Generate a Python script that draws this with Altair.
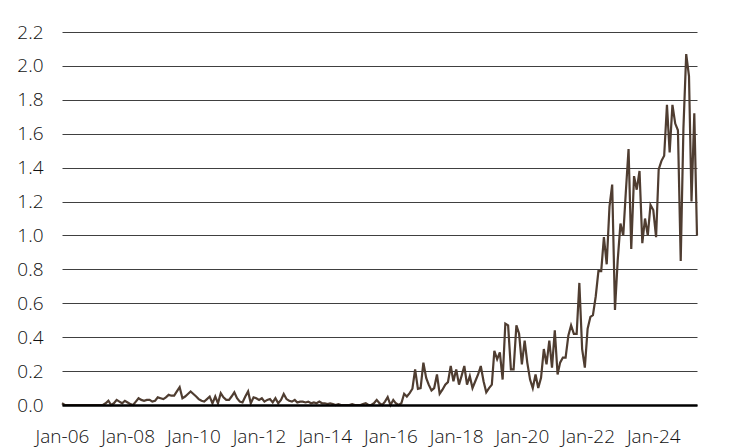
import altair as alt
import pandas as pd

# Monthly values, Jan 2006 - May 2025
v2006 = [0.01, 0, 0, 0, 0, 0, 0, 0, 0, 0, 0, 0]
v2007 = [0, 0, 0, 0, 0.01, 0.025, 0.0, 0.01, 0.03, 0.02, 0.01, 0.025]
v2008 = [0.015, 0.005, 0.0, 0.02, 0.04, 0.03, 0.025, 0.03, 0.03, 0.02, 0.025, 0.045]
v2009 = [0.04, 0.035, 0.045, 0.06, 0.055, 0.055, 0.08, 0.105, 0.04, 0.05, 0.065, 0.08]
v2010 = [0.065, 0.05, 0.035, 0.025, 0.02, 0.035, 0.05, 0.01, 0.05, 0.01, 0.07, 0.045]
v2011 = [0.03, 0.03, 0.05, 0.075, 0.04, 0.02, 0.015, 0.05, 0.08, 0.01, 0.045, 0.04]
v2012 = [0.03, 0.04, 0.02, 0.03, 0.035, 0.015, 0.04, 0.01, 0.03, 0.065, 0.035, 0.025]
v2013 = [0.02, 0.03, 0.015, 0.02, 0.02, 0.015, 0.02, 0.01, 0.015, 0.01, 0.02, 0.01]
v2014 = [0.01, 0.005, 0.01, 0.005, 0.0, 0.005, 0.0, 0.0, 0.0, 0.0, 0.005, 0.0]
v2015 = [0.0, 0.0, 0.005, 0.01, 0.0, 0.0, 0.01, 0.03, 0.01, 0.0, 0.02, 0.047]
v2016 = [0.0, 0.03, 0.01, 0.0, 0.01, 0.066, 0.05, 0.07, 0.096, 0.21, 0.095, 0.10]
v2017 = [0.25, 0.16, 0.12, 0.086, 0.10, 0.18, 0.066, 0.09, 0.12, 0.135, 0.23, 0.14]
v2018 = [0.21, 0.12, 0.17, 0.23, 0.12, 0.17, 0.10, 0.14, 0.18, 0.23, 0.14, 0.075]
v2019 = [0.10, 0.12, 0.32, 0.27, 0.31, 0.15, 0.48, 0.47, 0.21, 0.21, 0.47, 0.42]
v2020 = [0.24, 0.38, 0.25, 0.15, 0.10, 0.18, 0.10, 0.16, 0.33, 0.24, 0.38, 0.22]
v2021 = [0.44, 0.18, 0.25, 0.28, 0.28, 0.41, 0.47, 0.42, 0.42, 0.72, 0.33, 0.22]
v2022 = [0.45, 0.52, 0.53, 0.64, 0.79, 0.79, 0.99, 0.83, 1.17, 1.30, 0.56, 0.85]
v2023 = [1.07, 1.00, 1.25, 1.51, 0.92, 1.35, 1.27, 1.38, 0.955, 1.10, 1.00, 1.18]
v2024 = [1.15, 0.99, 1.39, 1.44, 1.47, 1.77, 1.49, 1.77, 1.66, 1.62, 0.85, 1.63]
v2025 = [2.07, 1.94, 1.20, 1.72, 1.00]

y_ticks = [0.0, 0.2, 0.4, 0.6, 0.8, 1.0, 1.2, 1.4, 1.6, 1.8, 2.0, 2.2]
x_tick_years = [2006, 2008, 2010, 2012, 2014, 2016, 2018, 2020, 2022, 2024]

values = (v2006 + v2007 + v2008 + v2009 + v2010 + v2011 + v2012 + v2013 + v2014
          + v2015 + v2016 + v2017 + v2018 + v2019 + v2020 + v2021 + v2022 + v2023
          + v2024 + v2025)
dates = pd.date_range("2006-01-01", periods=len(values), freq="MS")
df = pd.DataFrame({"date": dates.strftime("%Y-%m-%dT00:00:00"), "value": values})

FONT = "Open Sans"

chart = alt.Chart(df).mark_line(color="#4f3d31", strokeWidth=2.2).encode(
    x=alt.X(
        "date:T",
        scale=alt.Scale(domain=[alt.DateTime(year=2006, month=1, date=1),
                                alt.DateTime(year=2025, month=5, date=1)]),
        axis=alt.Axis(
            values=[alt.DateTime(year=y, month=1, date=1) for y in x_tick_years],
            format="%b-%y", title=None, grid=False, ticks=False,
            domain=True, domainColor="#000000", domainWidth=2.5,
            labelFont=FONT, labelFontSize=19, labelFontWeight=300,
            labelColor="#111111",
            labelPadding=22, labelFlush=False, labelOverlap=False, zindex=1,
        ),
    ),
    y=alt.Y(
        "value:Q",
        scale=alt.Scale(domain=[0, 2.2], nice=False),
        axis=alt.Axis(
            values=y_ticks, format=".1f", title=None, grid=True,
            gridColor="#404040", gridWidth=1, domain=False, ticks=False,
            labelFont=FONT, labelFontSize=19, labelFontWeight=300,
            labelColor="#111111",
            labelPadding=19,
        ),
    ),
).properties(
    width=635, height=373,
    autosize=alt.AutoSizeParams(type="none"),
    padding={"left": 54, "top": 24, "right": 45, "bottom": 42},
).configure_view(stroke=None)

chart.save("out.html", embed_options={"renderer": "svg", "actions": False})
